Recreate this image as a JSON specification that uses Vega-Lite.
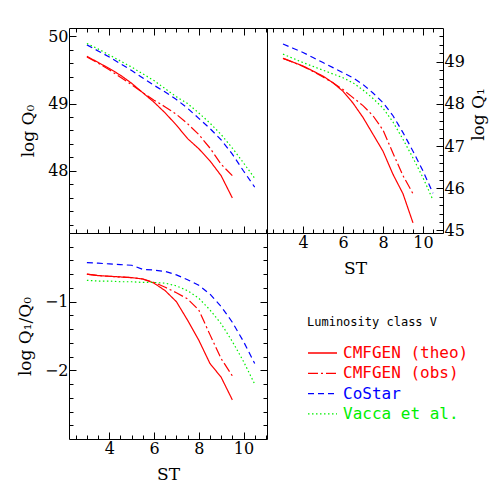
{
  "$schema": "https://vega.github.io/schema/vega-lite/v6.json",
  "padding": {"left": 15, "top": 27, "right": 5, "bottom": 5},
  "background": "white",
  "data": {"values": [
    {"model": "CMFGEN (theo)", "st": 3, "q0": 49.70, "q1": 49.08, "q10": -0.60},
    {"model": "CMFGEN (theo)", "st": 3.5, "q0": 49.61, "q1": 48.99, "q10": -0.62},
    {"model": "CMFGEN (theo)", "st": 4, "q0": 49.52, "q1": 48.90, "q10": -0.63},
    {"model": "CMFGEN (theo)", "st": 4.5, "q0": 49.42, "q1": 48.78, "q10": -0.64},
    {"model": "CMFGEN (theo)", "st": 5, "q0": 49.30, "q1": 48.66, "q10": -0.65},
    {"model": "CMFGEN (theo)", "st": 5.5, "q0": 49.16, "q1": 48.50, "q10": -0.67},
    {"model": "CMFGEN (theo)", "st": 6, "q0": 49.02, "q1": 48.30, "q10": -0.73},
    {"model": "CMFGEN (theo)", "st": 6.5, "q0": 48.86, "q1": 48.02, "q10": -0.84},
    {"model": "CMFGEN (theo)", "st": 7, "q0": 48.68, "q1": 47.68, "q10": -1.00},
    {"model": "CMFGEN (theo)", "st": 7.5, "q0": 48.48, "q1": 47.28, "q10": -1.27},
    {"model": "CMFGEN (theo)", "st": 8, "q0": 48.33, "q1": 46.88, "q10": -1.56},
    {"model": "CMFGEN (theo)", "st": 8.5, "q0": 48.15, "q1": 46.33, "q10": -1.90},
    {"model": "CMFGEN (theo)", "st": 9, "q0": 47.93, "q1": 45.87, "q10": -2.10},
    {"model": "CMFGEN (theo)", "st": 9.5, "q0": 47.60, "q1": 45.18, "q10": -2.43},
    {"model": "CMFGEN (obs)", "st": 3, "q0": 49.69, "q1": 49.08, "q10": -0.60},
    {"model": "CMFGEN (obs)", "st": 3.5, "q0": 49.60, "q1": 48.99, "q10": -0.62},
    {"model": "CMFGEN (obs)", "st": 4, "q0": 49.50, "q1": 48.89, "q10": -0.63},
    {"model": "CMFGEN (obs)", "st": 4.5, "q0": 49.39, "q1": 48.77, "q10": -0.64},
    {"model": "CMFGEN (obs)", "st": 5, "q0": 49.28, "q1": 48.64, "q10": -0.65},
    {"model": "CMFGEN (obs)", "st": 5.5, "q0": 49.16, "q1": 48.50, "q10": -0.67},
    {"model": "CMFGEN (obs)", "st": 6, "q0": 49.05, "q1": 48.34, "q10": -0.72},
    {"model": "CMFGEN (obs)", "st": 6.5, "q0": 48.95, "q1": 48.15, "q10": -0.79},
    {"model": "CMFGEN (obs)", "st": 7, "q0": 48.84, "q1": 47.96, "q10": -0.87},
    {"model": "CMFGEN (obs)", "st": 7.5, "q0": 48.70, "q1": 47.72, "q10": -0.96},
    {"model": "CMFGEN (obs)", "st": 8, "q0": 48.54, "q1": 47.38, "q10": -1.12},
    {"model": "CMFGEN (obs)", "st": 8.5, "q0": 48.34, "q1": 46.83, "q10": -1.48},
    {"model": "CMFGEN (obs)", "st": 9, "q0": 48.10, "q1": 46.30, "q10": -1.83},
    {"model": "CMFGEN (obs)", "st": 9.5, "q0": 47.93, "q1": 45.87, "q10": -2.08},
    {"model": "CoStar", "st": 3, "q0": 49.87, "q1": 49.42, "q10": -0.43},
    {"model": "CoStar", "st": 3.5, "q0": 49.78, "q1": 49.32, "q10": -0.44},
    {"model": "CoStar", "st": 4, "q0": 49.69, "q1": 49.22, "q10": -0.45},
    {"model": "CoStar", "st": 4.5, "q0": 49.59, "q1": 49.10, "q10": -0.46},
    {"model": "CoStar", "st": 5, "q0": 49.49, "q1": 48.98, "q10": -0.47},
    {"model": "CoStar", "st": 5.5, "q0": 49.38, "q1": 48.86, "q10": -0.53},
    {"model": "CoStar", "st": 6, "q0": 49.27, "q1": 48.74, "q10": -0.54},
    {"model": "CoStar", "st": 6.5, "q0": 49.17, "q1": 48.62, "q10": -0.56},
    {"model": "CoStar", "st": 7, "q0": 49.06, "q1": 48.46, "q10": -0.61},
    {"model": "CoStar", "st": 7.5, "q0": 48.93, "q1": 48.26, "q10": -0.68},
    {"model": "CoStar", "st": 8, "q0": 48.78, "q1": 48.03, "q10": -0.76},
    {"model": "CoStar", "st": 8.5, "q0": 48.63, "q1": 47.72, "q10": -0.89},
    {"model": "CoStar", "st": 9, "q0": 48.46, "q1": 47.32, "q10": -1.07},
    {"model": "CoStar", "st": 9.5, "q0": 48.25, "q1": 46.88, "q10": -1.30},
    {"model": "CoStar", "st": 10, "q0": 48.00, "q1": 46.41, "q10": -1.58},
    {"model": "CoStar", "st": 10.5, "q0": 47.76, "q1": 45.88, "q10": -1.90},
    {"model": "Vacca et al.", "st": 3, "q0": 49.89, "q1": 49.18, "q10": -0.69},
    {"model": "Vacca et al.", "st": 3.5, "q0": 49.81, "q1": 49.08, "q10": -0.70},
    {"model": "Vacca et al.", "st": 4, "q0": 49.72, "q1": 48.98, "q10": -0.70},
    {"model": "Vacca et al.", "st": 4.5, "q0": 49.63, "q1": 48.89, "q10": -0.71},
    {"model": "Vacca et al.", "st": 5, "q0": 49.54, "q1": 48.80, "q10": -0.71},
    {"model": "Vacca et al.", "st": 5.5, "q0": 49.44, "q1": 48.71, "q10": -0.72},
    {"model": "Vacca et al.", "st": 6, "q0": 49.34, "q1": 48.62, "q10": -0.72},
    {"model": "Vacca et al.", "st": 6.5, "q0": 49.22, "q1": 48.50, "q10": -0.73},
    {"model": "Vacca et al.", "st": 7, "q0": 49.10, "q1": 48.33, "q10": -0.77},
    {"model": "Vacca et al.", "st": 7.5, "q0": 49.00, "q1": 48.13, "q10": -0.84},
    {"model": "Vacca et al.", "st": 8, "q0": 48.86, "q1": 47.90, "q10": -0.95},
    {"model": "Vacca et al.", "st": 8.5, "q0": 48.71, "q1": 47.57, "q10": -1.12},
    {"model": "Vacca et al.", "st": 9, "q0": 48.54, "q1": 47.16, "q10": -1.32},
    {"model": "Vacca et al.", "st": 9.5, "q0": 48.34, "q1": 46.72, "q10": -1.58},
    {"model": "Vacca et al.", "st": 10, "q0": 48.12, "q1": 46.25, "q10": -1.87},
    {"model": "Vacca et al.", "st": 10.5, "q0": 47.89, "q1": 45.72, "q10": -2.20}
  ]},
  "columns": 2,
  "spacing": 0,
  "bounds": "flush",
  "concat": [
    {
      "width": 198, "height": 205,
      "resolve": {"axis": {"x": "independent", "y": "independent"}},
      "layer": [
        {
          "mark": {"type": "line", "strokeWidth": 1.2},
          "encoding": {
            "x": {"field": "st", "type": "quantitative", "scale": {"domain": [2.2, 11.05], "nice": false, "zero": false}, "axis": {"orient": "bottom", "values": [4, 6, 8, 10], "labels": false, "title": null, "tickSize": -7}},
            "y": {"field": "q0", "type": "quantitative", "scale": {"domain": [47.08, 50.12], "nice": false, "zero": false}, "axis": {"orient": "left", "values": [48, 49, 50], "title": "log Q₀", "tickSize": -7}},
            "color": {"field": "model", "type": "nominal", "scale": {"domain": ["CMFGEN (theo)", "CMFGEN (obs)", "CoStar", "Vacca et al."], "range": ["#ff0000", "#ff0000", "#0000ff", "#00ee00"]}, "legend": {"title": "Luminosity class V"}},
            "strokeDash": {"field": "model", "type": "nominal", "scale": {"domain": ["CMFGEN (theo)", "CMFGEN (obs)", "CoStar", "Vacca et al."], "range": [[1, 0], [10, 3, 2, 3], [6, 4], [1.5, 2.5]]}, "legend": {"title": "Luminosity class V"}}
          }
        },
        {
          "mark": {"type": "point", "opacity": 0},
          "encoding": {
            "x": {"field": "st", "type": "quantitative", "scale": {"domain": [2.2, 11.05], "nice": false, "zero": false}, "axis": {"orient": "top", "values": [4, 6, 8, 10], "labels": false, "title": null, "tickSize": -7}},
            "y": {"field": "q0", "type": "quantitative", "scale": {"domain": [47.08, 50.12], "nice": false, "zero": false}, "axis": null}
          }
        },
        {
          "mark": {"type": "point", "opacity": 0},
          "encoding": {
            "x": {"field": "st", "type": "quantitative", "scale": {"domain": [2.2, 11.05], "nice": false, "zero": false}, "axis": {"orient": "bottom", "values": [2.5, 3, 3.5, 4.5, 5, 5.5, 6.5, 7, 7.5, 8.5, 9, 9.5, 10.5, 11], "labels": false, "title": null, "tickSize": -4}},
            "y": {"field": "q0", "type": "quantitative", "scale": {"domain": [47.08, 50.12], "nice": false, "zero": false}, "axis": {"orient": "left", "values": [47.2, 47.4, 47.6, 47.8, 48.2, 48.4, 48.6, 48.8, 49.2, 49.4, 49.6, 49.8], "labels": false, "title": null, "tickSize": -4}}
          }
        },
        {
          "mark": {"type": "point", "opacity": 0},
          "encoding": {
            "x": {"field": "st", "type": "quantitative", "scale": {"domain": [2.2, 11.05], "nice": false, "zero": false}, "axis": {"orient": "top", "values": [2.5, 3, 3.5, 4.5, 5, 5.5, 6.5, 7, 7.5, 8.5, 9, 9.5, 10.5, 11], "labels": false, "title": null, "tickSize": -4}},
            "y": {"field": "q0", "type": "quantitative", "scale": {"domain": [47.08, 50.12], "nice": false, "zero": false}, "axis": null}
          }
        }
      ]
    },
    {
      "width": 176, "height": 205,
      "resolve": {"axis": {"x": "independent", "y": "independent"}},
      "layer": [
        {
          "mark": {"type": "line", "strokeWidth": 1.2},
          "encoding": {
            "x": {"field": "st", "type": "quantitative", "scale": {"domain": [2.2, 11.0], "nice": false, "zero": false}, "axis": {"orient": "bottom", "values": [4, 6, 8, 10], "title": "ST", "tickSize": -7}},
            "y": {"field": "q1", "type": "quantitative", "scale": {"domain": [44.94, 49.8], "nice": false, "zero": false}, "axis": {"orient": "right", "values": [45, 46, 47, 48, 49], "title": "log Q₁", "titleAngle": 270, "titleBaseline": "top", "titleY": 86, "titlePadding": 6, "tickSize": -7}},
            "color": {"field": "model", "type": "nominal", "scale": {"domain": ["CMFGEN (theo)", "CMFGEN (obs)", "CoStar", "Vacca et al."], "range": ["#ff0000", "#ff0000", "#0000ff", "#00ee00"]}, "legend": {"title": "Luminosity class V"}},
            "strokeDash": {"field": "model", "type": "nominal", "scale": {"domain": ["CMFGEN (theo)", "CMFGEN (obs)", "CoStar", "Vacca et al."], "range": [[1, 0], [10, 3, 2, 3], [6, 4], [1.5, 2.5]]}, "legend": {"title": "Luminosity class V"}}
          }
        },
        {
          "mark": {"type": "point", "opacity": 0},
          "encoding": {
            "x": {"field": "st", "type": "quantitative", "scale": {"domain": [2.2, 11.0], "nice": false, "zero": false}, "axis": {"orient": "top", "values": [4, 6, 8, 10], "labels": false, "title": null, "tickSize": -7}},
            "y": {"field": "q1", "type": "quantitative", "scale": {"domain": [44.94, 49.8], "nice": false, "zero": false}, "axis": null}
          }
        },
        {
          "mark": {"type": "point", "opacity": 0},
          "encoding": {
            "x": {"field": "st", "type": "quantitative", "scale": {"domain": [2.2, 11.0], "nice": false, "zero": false}, "axis": {"orient": "bottom", "values": [2.5, 3, 3.5, 4.5, 5, 5.5, 6.5, 7, 7.5, 8.5, 9, 9.5, 10.5], "labels": false, "title": null, "tickSize": -4}},
            "y": {"field": "q1", "type": "quantitative", "scale": {"domain": [44.94, 49.8], "nice": false, "zero": false}, "axis": {"orient": "right", "values": [45.2, 45.4, 45.6, 45.8, 46.2, 46.4, 46.6, 46.8, 47.2, 47.4, 47.6, 47.8, 48.2, 48.4, 48.6, 48.8, 49.2, 49.4, 49.6], "labels": false, "title": null, "tickSize": -4}}
          }
        },
        {
          "mark": {"type": "point", "opacity": 0},
          "encoding": {
            "x": {"field": "st", "type": "quantitative", "scale": {"domain": [2.2, 11.0], "nice": false, "zero": false}, "axis": {"orient": "top", "values": [2.5, 3, 3.5, 4.5, 5, 5.5, 6.5, 7, 7.5, 8.5, 9, 9.5, 10.5], "labels": false, "title": null, "tickSize": -4}},
            "y": {"field": "q1", "type": "quantitative", "scale": {"domain": [44.94, 49.8], "nice": false, "zero": false}, "axis": null}
          }
        }
      ]
    },
    {
      "width": 198, "height": 206,
      "resolve": {"axis": {"x": "independent", "y": "independent"}},
      "layer": [
        {
          "mark": {"type": "line", "strokeWidth": 1.2},
          "encoding": {
            "x": {"field": "st", "type": "quantitative", "scale": {"domain": [2.2, 11.05], "nice": false, "zero": false}, "axis": {"orient": "bottom", "values": [4, 6, 8, 10], "title": "ST", "tickSize": -7}},
            "y": {"field": "q10", "type": "quantitative", "scale": {"domain": [-3, 0], "nice": false, "zero": false}, "axis": {"orient": "left", "values": [-2, -1], "title": "log Q₁/Q₀", "tickSize": -7}},
            "color": {"field": "model", "type": "nominal", "scale": {"domain": ["CMFGEN (theo)", "CMFGEN (obs)", "CoStar", "Vacca et al."], "range": ["#ff0000", "#ff0000", "#0000ff", "#00ee00"]}, "legend": {"title": "Luminosity class V"}},
            "strokeDash": {"field": "model", "type": "nominal", "scale": {"domain": ["CMFGEN (theo)", "CMFGEN (obs)", "CoStar", "Vacca et al."], "range": [[1, 0], [10, 3, 2, 3], [6, 4], [1.5, 2.5]]}, "legend": {"title": "Luminosity class V"}}
          }
        },
        {
          "mark": {"type": "point", "opacity": 0},
          "encoding": {
            "x": {"field": "st", "type": "quantitative", "scale": {"domain": [2.2, 11.05], "nice": false, "zero": false}, "axis": null},
            "y": {"field": "q10", "type": "quantitative", "scale": {"domain": [-3, 0], "nice": false, "zero": false}, "axis": {"orient": "right", "values": [-2, -1], "labels": false, "title": null, "tickSize": -7}}
          }
        },
        {
          "mark": {"type": "point", "opacity": 0},
          "encoding": {
            "x": {"field": "st", "type": "quantitative", "scale": {"domain": [2.2, 11.05], "nice": false, "zero": false}, "axis": {"orient": "bottom", "values": [2.5, 3, 3.5, 4.5, 5, 5.5, 6.5, 7, 7.5, 8.5, 9, 9.5, 10.5, 11], "labels": false, "title": null, "tickSize": -4}},
            "y": {"field": "q10", "type": "quantitative", "scale": {"domain": [-3, 0], "nice": false, "zero": false}, "axis": {"orient": "left", "values": [-2.8, -2.6, -2.4, -2.2, -1.8, -1.6, -1.4, -1.2, -0.8, -0.6, -0.4, -0.2], "labels": false, "title": null, "tickSize": -4}}
          }
        },
        {
          "mark": {"type": "point", "opacity": 0},
          "encoding": {
            "x": {"field": "st", "type": "quantitative", "scale": {"domain": [2.2, 11.05], "nice": false, "zero": false}, "axis": null},
            "y": {"field": "q10", "type": "quantitative", "scale": {"domain": [-3, 0], "nice": false, "zero": false}, "axis": {"orient": "right", "values": [-2.8, -2.6, -2.4, -2.2, -1.8, -1.6, -1.4, -1.2, -0.8, -0.6, -0.4, -0.2], "labels": false, "title": null, "tickSize": -4}}
          }
        }
      ]
    }
  ],
  "config": {
    "view": {"stroke": "black", "strokeWidth": 1},
    "axis": {
      "domain": false, "grid": false, "ticks": true,
      "tickColor": "black", "tickWidth": 1,
      "labelFont": "DejaVu Serif", "labelFontSize": 16, "labelColor": "black", "labelPadding": 8,
      "titleFont": "DejaVu Serif", "titleFontSize": 17, "titleFontWeight": "normal", "titleColor": "black", "titlePadding": 10
    },
    "legend": {
      "orient": "none", "legendX": 238, "legendY": 289,
      "symbolType": "M-1,0H1.9", "symbolSize": 400, "symbolStrokeWidth": 1.3,
      "labelFont": "DejaVu Sans Mono", "labelFontSize": 16, "labelOffset": 14,
      "labelColor": {"expr": "datum.value == 'CoStar' ? '#0000ff' : (datum.value == 'Vacca et al.' ? '#00ee00' : '#ff0000')"},
      "titleFont": "DejaVu Sans Mono", "titleFontSize": 12, "titleFontWeight": "normal", "titleColor": "black",
      "titlePadding": 13, "rowPadding": 1.3
    }
  }
}
